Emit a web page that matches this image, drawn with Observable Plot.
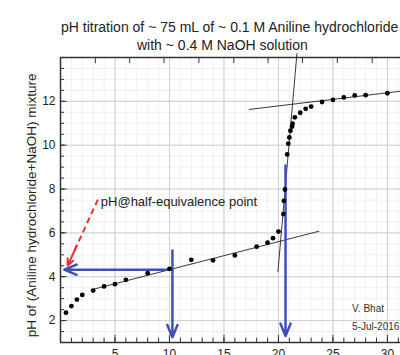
<!DOCTYPE html>
<html><head><meta charset="utf-8">
<script src="https://cdn.jsdelivr.net/npm/d3@7"></script>
<script src="https://cdn.jsdelivr.net/npm/@observablehq/plot@0.6"></script>
<style>
body{margin:0;background:#fff;font-family:"Liberation Sans",Arial,sans-serif;width:400px;height:355px;overflow:hidden}
#t{height:54px;position:relative;font-size:14px;color:#222}
#t div{position:absolute;white-space:nowrap;line-height:18px}
#chart svg{overflow:visible;display:block}
</style></head><body>
<div id="t"><div style="left:61px;top:18px">pH titration of ~ 75 mL of ~ 0.1 M Aniline hydrochloride</div><div style="left:137px;top:36px">with ~ 0.4 M NaOH solution</div></div>
<div id="chart"></div>
<script>
// Titration data (volume NaOH in mL, pH)
const volume = [0.5, 1, 1.5, 2, 3, 4, 5, 6, 8, 10, 12, 14, 16, 18, 19, 19.5, 20, 20.45, 20.5, 20.6, 20.8, 20.9, 21.0, 21.1, 21.25, 21.3, 21.5, 22, 22.5, 23, 24, 25, 26, 27, 28, 30];
const pH = [2.36, 2.66, 2.96, 3.17, 3.37, 3.56, 3.66, 3.86, 4.16, 4.36, 4.77, 4.75, 4.97, 5.37, 5.55, 5.76, 6.06, 6.86, 7.46, 7.98, 9.58, 10.07, 10.35, 10.66, 10.85, 10.98, 11.27, 11.48, 11.66, 11.76, 11.97, 12.07, 12.18, 12.27, 12.28, 12.37];

// tick values
const xMajor = [5, 10, 15, 20, 25, 30];
const xMinor = [1,2,3,4,5,6,7,8,9,10,11,12,13,14,15,16,17,18,19,20,21,22,23,24,25,26,27,28,29,30,31];
const yMajor = [2, 4, 6, 8, 10, 12];
const yMinor = [1.5,2,2.5,3,3.5,4,4.5,5,5.5,6,6.5,7,7.5,8,8.5,9,9.5,10,10.5,11,11.5,12,12.5,13,13.5];
const topTicks = [3.2, 6.35, 9.5, 12.7, 15.9, 19.05, 22.2, 25.4, 28.6];

// tangent (fit) lines
const fitX1 = [2.8, 17.3, 19.95];
const fitY1 = [3.40, 11.63, 4.21];
const fitX2 = [23.75, 31.5, 21.7];
const fitY2 = [6.08, 12.48, 14.2];

// blue arrows
const arrowX1 = [10.27, 10.27, 20.65];
const arrowY1 = [4.32, 5.2, 9.07];
const arrowX2 = [0.35, 10.27, 20.65];
const arrowY2 = [4.32, 1.24, 1.3];

// red dashed pointer
const redX = [3.43, 0.66];
const redY = [7.52, 4.51];

const annotation = "pH@half-equivalence point";
const yTitle = "pH of (Aniline hydrochloride+NaOH) mixture";
const author = ["V. Bhat", "5-Jul-2016"];
const authorY = [2.54, 1.73];

const pts = volume.map((v, i) => ({v, p: pH[i]}));
const fits = fitX1.map((x, i) => ({x1: x, y1: fitY1[i], x2: fitX2[i], y2: fitY2[i]}));
const arrows = arrowX1.map((x, i) => ({x1: x, y1: arrowY1[i], x2: arrowX2[i], y2: arrowY2[i]}));
const redFrac = 0.82;
const redLine = [{x1: redX[0], y1: redY[0], x2: redX[0] + (redX[1]-redX[0])*redFrac, y2: redY[0] + (redY[1]-redY[0])*redFrac}];
const redHead = [{x1: redX[0] + (redX[1]-redX[0])*0.7, y1: redY[0] + (redY[1]-redY[0])*0.7, x2: redX[1], y2: redY[1]}];

const plot = Plot.plot({
  width: 400, height: 301,
  marginTop: 3, marginBottom: 13, marginLeft: 60, marginRight: 0,
  x: {domain: [0, 31.2], axis: null},
  y: {domain: [1, 14], axis: null},
  style: {fontFamily: '"Liberation Sans", Arial, sans-serif', fontSize: "12px", color: "#222", overflow: "visible", background: "#fff"},
  marks: [
    // minor grid
    Plot.ruleX(xMinor, {x: d => d, y1: () => 1, y2: () => 14, stroke: "#f0f0f0", strokeWidth: 1}),
    Plot.ruleY(yMinor, {y: d => d, x1: () => 0, x2: () => 31.2, stroke: "#f0f0f0", strokeWidth: 1}),
    // major grid
    Plot.ruleX(xMajor, {x: d => d, y1: () => 1, y2: () => 14, stroke: "#cfcfcf", strokeWidth: 1}),
    Plot.ruleY(yMajor, {y: d => d, x1: () => 0, x2: () => 31.2, stroke: "#cfcfcf", strokeWidth: 1}),
    // frame
    Plot.ruleY([1], {y: d => d, x1: () => 0, x2: () => 31.2, stroke: "#333", strokeWidth: 1.5}),
    Plot.ruleY([14], {y: d => d, x1: () => 0, x2: () => 31.2, stroke: "#333", strokeWidth: 1.5}),
    Plot.ruleX([0], {x: d => d, y1: () => 1, y2: () => 14, stroke: "#333", strokeWidth: 1.5}),
    // inward ticks
    Plot.ruleX(xMinor, {x: d => d, y1: () => 1, y2: () => 1.2, stroke: "#333", strokeWidth: 1}),
    Plot.ruleX(xMajor, {x: d => d, y1: () => 1, y2: () => 1.32, stroke: "#333", strokeWidth: 1}),
    Plot.ruleY(yMinor, {y: d => d, x1: () => 0, x2: () => 0.37, stroke: "#333", strokeWidth: 1}),
    Plot.ruleY(yMajor, {y: d => d, x1: () => 0, x2: () => 0.6, stroke: "#333", strokeWidth: 1}),
    Plot.ruleX(topTicks, {x: d => d, y1: () => 14, y2: () => 13.72, stroke: "#333", strokeWidth: 1}),
    // tick labels
    Plot.text(xMajor, {x: d => d, y: () => 1, dy: 7, lineAnchor: "top", text: d => String(d), fontSize: 12, fill: "#222"}),
    Plot.text(yMajor, {x: () => 0, y: d => d, dx: -5, textAnchor: "end", text: d => String(d), fontSize: 12, fill: "#222"}),
    Plot.text([yTitle], {x: () => -2.66, y: () => 7.25, rotate: -90, fontSize: 13.5, fill: "#222"}),
    // fit lines
    Plot.link(fits, {x1: "x1", y1: "y1", x2: "x2", y2: "y2", stroke: "#222", strokeWidth: 0.9}),
    // blue arrows
    Plot.arrow(arrows, {x1: "x1", y1: "y1", x2: "x2", y2: "y2", stroke: "#3f4fb5", strokeWidth: 2.5, headLength: 8, headAngle: 45}),
    // red dashed pointer
    Plot.link(redLine, {x1: "x1", y1: "y1", x2: "x2", y2: "y2", stroke: "#e8312f", strokeWidth: 2, strokeDasharray: "6,4"}),
    Plot.arrow(redHead, {x1: "x1", y1: "y1", x2: "x2", y2: "y2", stroke: "#e8312f", strokeWidth: 2, headLength: 7, headAngle: 50}),
    // data
    Plot.dot(pts, {x: "v", y: "p", r: 2.4, fill: "#000", stroke: "none"}),
    // annotations
    Plot.text([annotation], {x: () => 3.7, y: () => 7.43, textAnchor: "start", fontSize: 13, fill: "#222"}),
    Plot.text(author, {x: () => 26.76, y: (d, i) => authorY[i], textAnchor: "start", fontSize: 10, fill: "#333"})
  ]
});
document.getElementById("chart").appendChild(plot);
</script>
</body></html>
